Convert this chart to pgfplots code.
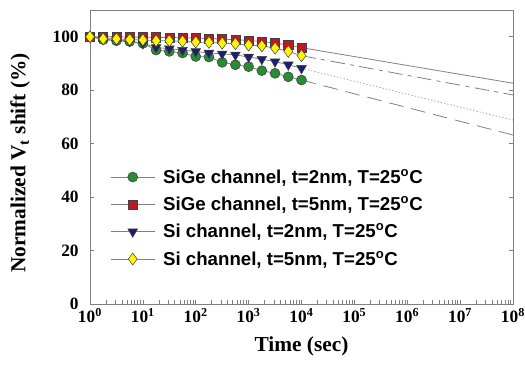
\documentclass[border=0pt]{standalone}
\usepackage{fontspec}
\setmainfont{Liberation Serif}
\newfontfamily\arialfont{Liberation Sans}
\usepackage{pgfplots}
\usepackage{pgfplotstable}
\pgfplotsset{compat=1.18}
\definecolor{cgreen}{RGB}{40,140,50}
\definecolor{cred}{RGB}{190,25,35}
\definecolor{cnavy}{RGB}{30,30,110}
\definecolor{cyel}{RGB}{255,245,0}
\pgfplotstableread{
x      g     r     b     y
1      100   100   100   100
1.778  98.9  100   99.3  99.2
3.162  98.5  99.9  98.9  99.2
5.623  98.2  99.9  98.3  98.9
10     97.5  99.8  97.5  98.8
17.78  95.0  99.8  96.0  98.5
31.62  94.5  99.7  95.5  98.5
56.23  93.9  99.6  95.0  98.3
100    92.6  99.5  94.5  98.0
177.8  92.4  99.3  93.9  97.9
316.2  90.4  99.1  93.6  97.6
562.3  89.5  98.9  93.2  97.4
1000   88.8  98.6  92.4  96.9
1778   87.3  98.2  91.6  96.6
3162   86.3  97.6  90.7  95.7
5623   85.0  96.9  89.5  94.5
10000  83.8  95.9  88.2  92.9
}\datatab
\begin{document}
\begin{tikzpicture}
\begin{axis}[
  xmode=log, scale only axis, width=317.25pt, height=220.5pt,
  xmin=1, xmax=1e8, ymin=0, ymax=110,
  xtick={1,10,100,1000,10000,100000,1000000,10000000,100000000},
  xticklabels={\textbf{10\textsuperscript{0}},\textbf{10\textsuperscript{1}},\textbf{10\textsuperscript{2}},\textbf{10\textsuperscript{3}},\textbf{10\textsuperscript{4}},\textbf{10\textsuperscript{5}},\textbf{10\textsuperscript{6}},\textbf{10\textsuperscript{7}},\textbf{10\textsuperscript{8}}},
  minor xtick={},
  ytick={0,20,40,60,80,100},
  yticklabels={\textbf{0},\textbf{20},\textbf{40},\textbf{60},\textbf{80},\textbf{100}},
  tick align=inside, xtick pos=lower, ytick pos=both,
  axis line style={gray}, every tick/.style={gray}, major tick length=3pt,
  tick label style={font=\fontsize{13}{15}\selectfont},
  yticklabel style={xshift=-5pt},
  label style={font=\fontsize{16}{19}\selectfont\bfseries},
  xlabel={Time (sec)},
  ylabel={Normalized V\textsubscript{t} shift (\%)},
  xlabel style={at={(axis description cs:0.5,-0.143)},anchor=center},
  ylabel style={at={(axis description cs:-0.165,0.48)},anchor=center},
  legend style={draw=none, fill=none, at={(axis description cs:0.038,0.478)}, anchor=north west,
    font=\arialfont\bfseries\fontsize{14}{16}\selectfont, row sep=4.5pt,
    /tikz/every odd column/.append style={column sep=4pt}},
  legend cell align=left,
  legend image code/.code={\draw[mark repeat=2,mark phase=2,#1] plot coordinates {(0pt,0pt) (16.5pt,0pt) (33pt,0pt)};},
]
\addplot[gray, line width=0.6pt, mark=*, mark size=3.75pt, mark options={fill=cgreen, draw=darkgray, line width=0.4pt, solid}] table[x=x,y=g]{\datatab};
\addlegendentry{SiGe channel, t=2nm, T=25\textsuperscript{o}C}
\addplot[gray, line width=0.6pt, mark=square*, mark size=3.4pt, mark options={fill=cred, draw=darkgray, line width=0.4pt, solid}] table[x=x,y=r]{\datatab};
\addlegendentry{SiGe channel, t=5nm, T=25\textsuperscript{o}C}
\addplot[gray, line width=0.6pt, mark=triangle*, mark size=4.2pt, mark options={fill=cnavy, draw=darkgray, line width=0.4pt, solid, rotate=180}] table[x=x,y=b]{\datatab};
\addlegendentry{Si channel, t=2nm, T=25\textsuperscript{o}C}
\addplot[gray, line width=0.6pt, mark=diamond*, mark size=4.5pt, mark options={fill=cyel, draw=darkgray, line width=0.4pt, solid}] table[x=x,y=y]{\datatab};
\addlegendentry{Si channel, t=5nm, T=25\textsuperscript{o}C}
\addplot[gray, line width=0.6pt, forget plot] coordinates {(1e4,95.9) (1e8,82.6)};
\addplot[gray, line width=0.6pt, dash pattern=on 11pt off 4pt on 3pt off 4pt, forget plot] coordinates {(1e4,92.9) (1e8,78.2)};
\addplot[gray!70, line width=0.6pt, dash pattern=on 1pt off 1.5pt, forget plot] coordinates {(1e4,88.2) (1e8,68.8)};
\addplot[gray, line width=0.6pt, dash pattern=on 11pt off 6pt, forget plot] coordinates {(1e4,83.8) (1e8,63.2)};
\end{axis}
\pgfresetboundingbox
\path ([xshift=-67.5pt,yshift=-48.75pt]current axis.south west) rectangle ([xshift=9pt,yshift=7.5pt]current axis.north east);
\end{tikzpicture}
\end{document}
